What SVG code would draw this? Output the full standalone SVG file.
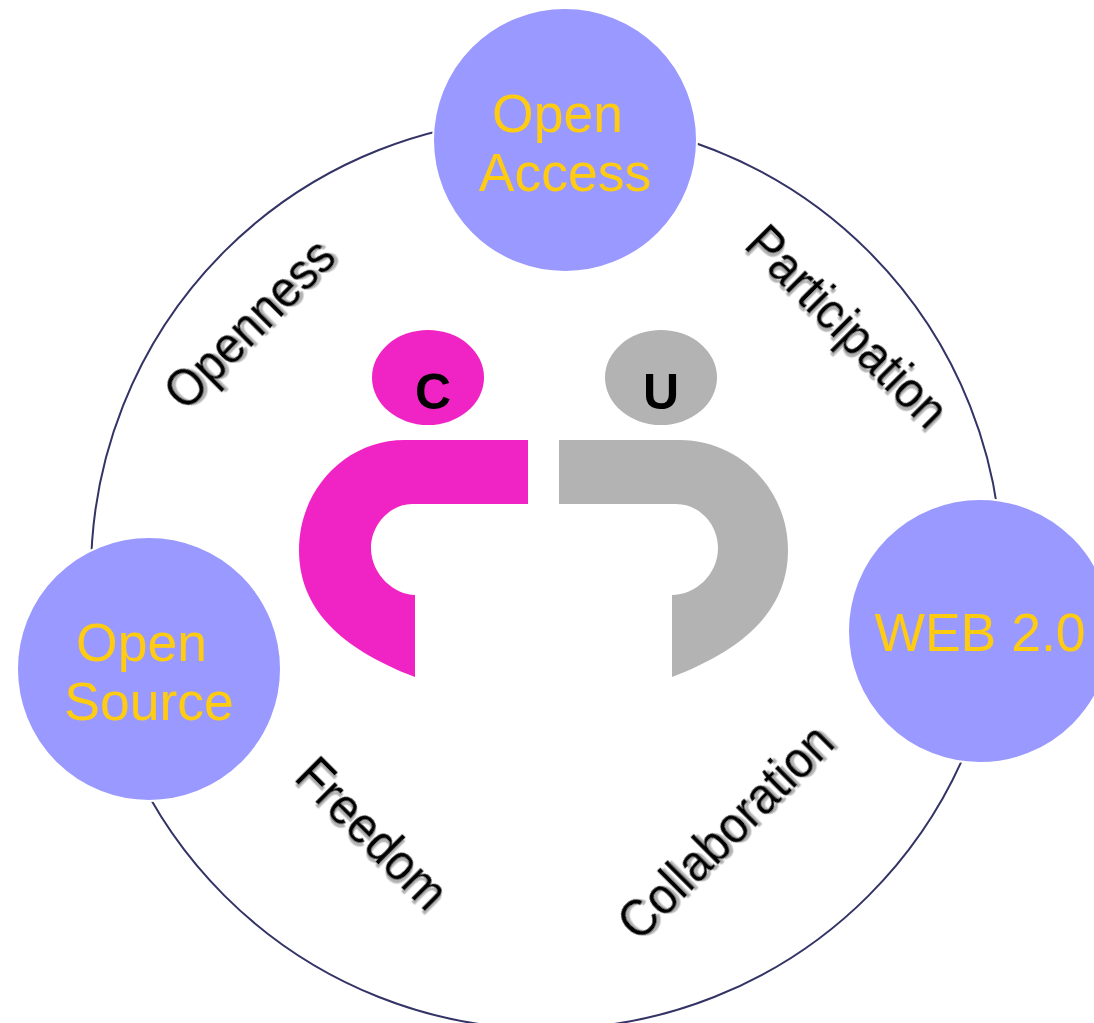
<svg xmlns="http://www.w3.org/2000/svg" width="1094" height="1023" viewBox="0 0 1094 1023">
<style>
.node{fill:#9999ff;stroke:#fff;stroke-width:2}
.nt{font-family:"Liberation Sans",Arial,sans-serif;font-size:53.5px;fill:#ffcc11;text-anchor:middle}
.lb{font-family:"Liberation Sans",Arial,sans-serif;font-size:47.5px;fill:#000;stroke:#000;stroke-width:.3;text-anchor:middle;filter:url(#sh)}
.lt{font-family:"Liberation Sans",Arial,sans-serif;font-size:50px;font-weight:bold;fill:#000;text-anchor:middle}
</style>
<defs><filter id="sh" x="-20%" y="-20%" width="140%" height="140%"><feDropShadow dx="2.5" dy="2.5" stdDeviation="0.6" flood-color="#b2b2b2"/></filter></defs>
<rect width="1094" height="1023" fill="#fff"/>
<g id="connectors"><circle cx="546.5" cy="573.5" r="455.5" fill="none" stroke="#333366" stroke-width="2"/></g>
<g id="logo-c">
<ellipse cx="428" cy="377.5" rx="56" ry="47.5" fill="#f024c4"/>
<path d="M528 440H405C345 440 299 490 299 550C299 615 350 652 415 677V595C395 595 371 575 371 548C371 525 390 504 412 504H528Z" fill="#f024c4"/>
<text class="lt" x="433" y="409">C</text>
</g>
<g id="logo-u">
<ellipse cx="661" cy="377.5" rx="56" ry="47.5" fill="#b3b3b3"/>
<path d="M559 440H680C740 440 788 490 788 550C788 615 737 652 672 677V595C695 595 718 575 718 548C718 525 700 504 676 504H559Z" fill="#b3b3b3"/>
<text class="lt" x="661" y="409">U</text>
</g>
<g id="open-access"><circle class="node" cx="565" cy="140" r="132"/><text class="nt" x="557.5" y="131.5">Open</text><text class="nt" x="565" y="190.5">Access</text></g>
<g id="open-source"><circle class="node" cx="149" cy="669" r="132"/><text class="nt" x="141.5" y="660.5">Open</text><text class="nt" x="149" y="720">Source</text></g>
<g id="web"><circle class="node" cx="980" cy="631" r="132"/><text class="nt" x="980" y="651">WEB 2.0</text></g>
<text class="lb" transform="translate(262 336) rotate(-45) scale(1 1.1)">Openness</text>
<text class="lb" transform="translate(835 339) rotate(45) scale(1 1.1)">Participation</text>
<text class="lb" transform="translate(360 846) rotate(45) scale(1 1.1)">Freedom</text>
<text class="lb" transform="translate(738 844) rotate(-45) scale(1 1.1)">Collaboration</text>
</svg>
